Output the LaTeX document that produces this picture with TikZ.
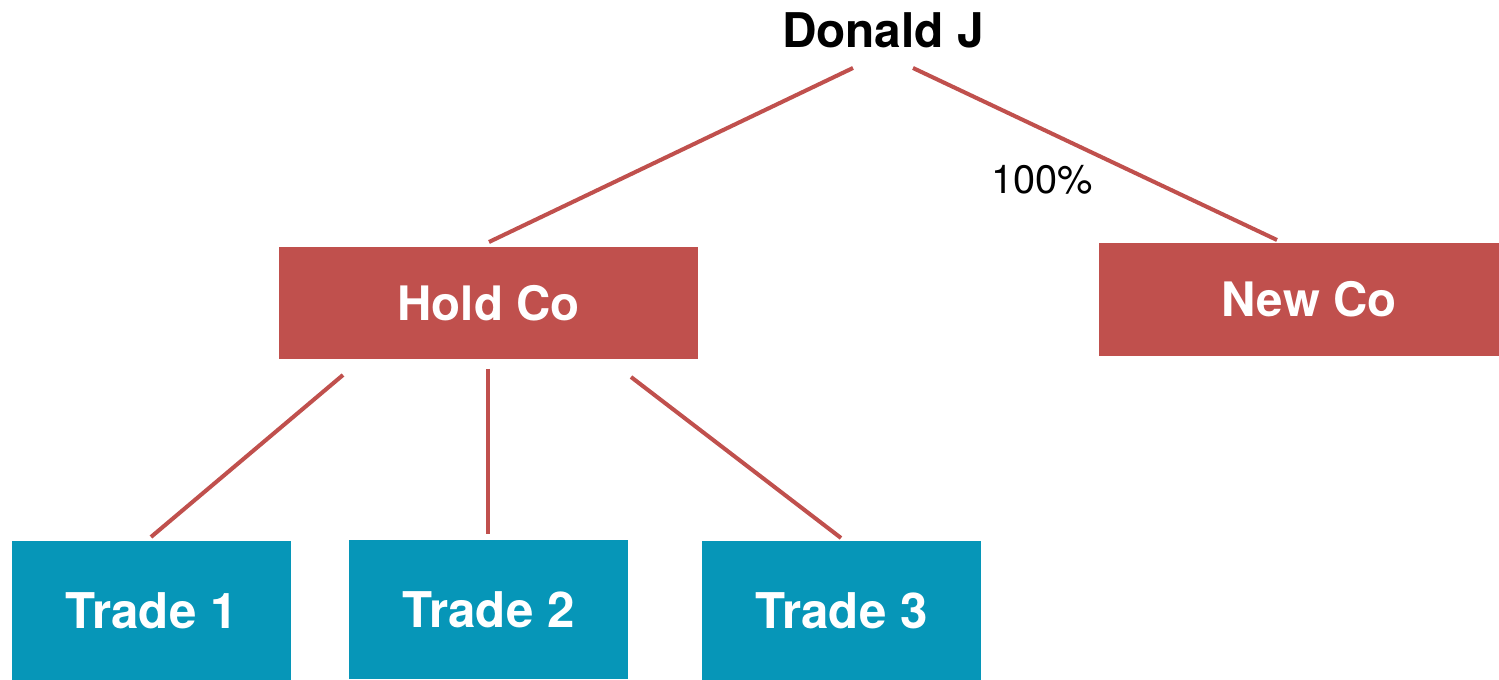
\documentclass[tikz,border=0pt]{standalone}
\usepackage{fontspec}
\setmainfont{TeX Gyre Heros}
\definecolor{coRed}{HTML}{C0504D}
\definecolor{coBlue}{HTML}{0696B8}
\begin{document}
\begin{tikzpicture}[x=0.01cm,y=-0.01cm,
  redbox/.style={fill=coRed, draw=none, text=white, font=\fontsize{13.5}{16}\selectfont\bfseries, inner sep=0pt},
  bluebox/.style={fill=coBlue, draw=none, text=white, font=\fontsize{14}{17}\selectfont\bfseries, inner sep=0pt, minimum width=279*0.01cm, minimum height=139*0.01cm},
  link/.style={draw=coRed, line width=1.15pt}
]
\useasboundingbox (0,0) rectangle (1499,680);
\node[anchor=base, font=\fontsize{13.6}{16}\selectfont\bfseries] (donald) at (883,48) {Donald J};
\node[redbox, minimum width=419*0.01cm, minimum height=112*0.01cm] (hold) at (488.5,303) {Hold Co};
\node[redbox, minimum width=420*0.01cm, minimum height=113*0.01cm] (new) at (1309,299.5) {New Co};
\node[bluebox] (t1) at (151.5,610.5) {Trade 1};
\node[bluebox] (t2) at (488.5,609.5) {Trade 2};
\node[bluebox] (t3) at (841.5,610.5) {Trade 3};
\node[font=\fontsize{11.3}{13}\selectfont] (pct) at (1042,180) {100\%};
\coordinate (dA) at (853,68);
\coordinate (dB) at (913,68);
\coordinate (hT) at (489,242);
\coordinate (nT) at (1277,240);
\coordinate (h1) at (343,375);
\coordinate (c1) at (151,537);
\coordinate (h2) at (488,369);
\coordinate (c2) at (488,534);
\coordinate (h3) at (631,377);
\coordinate (c3) at (841,538);
\draw[link] (dA) -- (hT);
\draw[link] (dB) -- (nT);
\draw[link] (h1) -- (c1);
\draw[link] (h2) -- (c2);
\draw[link] (h3) -- (c3);
\end{tikzpicture}
\end{document}
